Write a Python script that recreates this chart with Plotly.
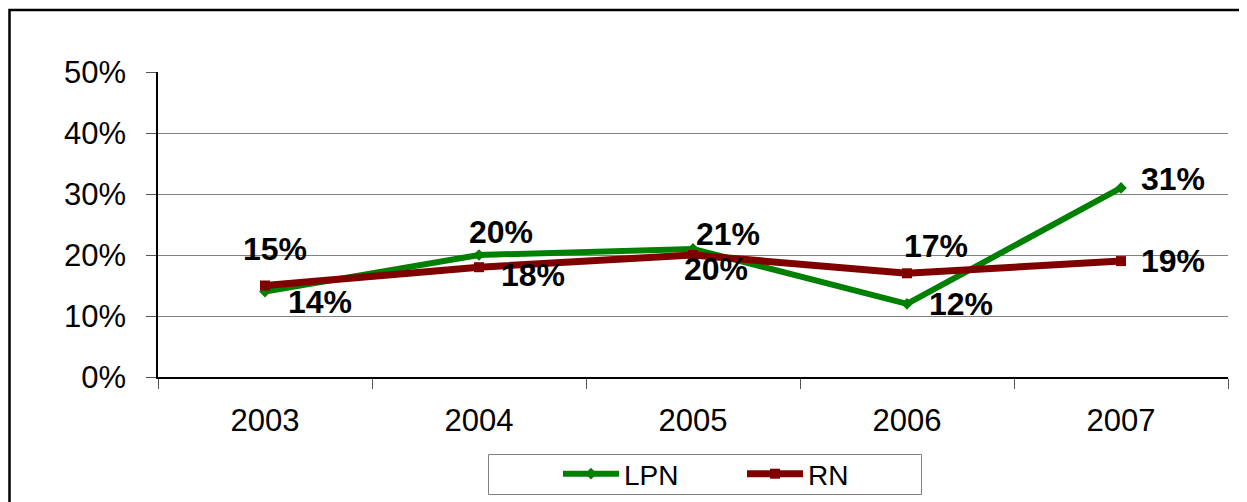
import plotly.graph_objects as go

years = ["2003", "2004", "2005", "2006", "2007"]
lpn_pct = [14, 20, 21, 12, 31]
rn_pct = [15, 18, 20, 17, 19]

# label offsets (pixels) for the data labels: (xshift, yshift)
lpn_label_shift = [(55, -10), (22, 23), (35, 15), (54, 0), (52, 9)]
rn_label_shift = [(10, 37), (54, -8), (23, -14), (29, 27), (52, 0)]

FONT = "Liberation Sans, Arial, sans-serif"
GREEN = "#008000"
RED = "#800000"

fig = go.Figure()
fig.add_trace(go.Scatter(
    x=years, y=[v / 100 for v in lpn_pct], name="LPN", mode="lines+markers",
    line=dict(color=GREEN, width=6), marker=dict(symbol="diamond", size=9, color=GREEN),
))
fig.add_trace(go.Scatter(
    x=years, y=[v / 100 for v in rn_pct], name="RN", mode="lines+markers",
    line=dict(color=RED, width=7), marker=dict(symbol="square", size=10, color=RED),
))

annotations = []
for vals, shifts in ((lpn_pct, lpn_label_shift), (rn_pct, rn_label_shift)):
    for i, (v, (dx, dy)) in enumerate(zip(vals, shifts)):
        annotations.append(dict(
            x=i, y=v / 100, xref="x", yref="y", text=f"<b>{v}%</b>", showarrow=False,
            xshift=dx, yshift=dy, font=dict(family=FONT, size=32, color="black"),
        ))

# page offset of the figure (browser body margin)
OFF = 8
W, H = 1247 - OFF, 502 - OFF
L = 158 - OFF
R = W - (1228 - OFF)
T = 72 - OFF
B = H - (377 - OFF)
pw, ph = W - L - R, H - T - B

def px_to_paper_x(px):
    return (px - OFF - L) / pw

def px_to_paper_y(py):
    return (H - B - (py - OFF)) / ph

fig.update_layout(
    width=W, height=H,
    margin=dict(l=L, r=R, t=T, b=B, pad=0, autoexpand=False),
    paper_bgcolor="white", plot_bgcolor="white",
    font=dict(family=FONT, size=31, color="black"),
    showlegend=True,
    legend=dict(
        orientation="h", x=px_to_paper_x(558), xanchor="left",
        y=px_to_paper_y(474), yanchor="middle",
        borderwidth=0, bgcolor="rgba(0,0,0,0)",
        font=dict(family=FONT, size=28, color="black"),
        itemwidth=56, tracegroupgap=0, entrywidth=113,
    ),
    annotations=annotations,
    shapes=[
        dict(
            type="rect", xref="paper", yref="paper",
            x0=px_to_paper_x(9.5), x1=px_to_paper_x(1270),
            y0=px_to_paper_y(530), y1=px_to_paper_y(10),
            line=dict(color="black", width=2.5), fillcolor="rgba(0,0,0,0)", layer="below",
        ),
        dict(
            type="rect", xref="paper", yref="paper",
            x0=px_to_paper_x(488.5), x1=px_to_paper_x(921.5),
            y0=px_to_paper_y(494.5), y1=px_to_paper_y(454.5),
            line=dict(color="#808080", width=1), fillcolor="white", layer="below",
        ),
    ],
)

fig.update_xaxes(
    type="category", tickson="boundaries", ticks="outside", ticklen=10,
    tickcolor="#555555", tickwidth=1, showgrid=False, showline=True,
    linecolor="black", linewidth=1.5, ticklabelstandoff=15,
    tickfont=dict(family=FONT, size=31, color="black"),
    range=[-0.5, 4.5],
)
fig.update_yaxes(
    range=[0, 0.5], dtick=0.1, tickformat=".0%", ticks="outside", ticklen=10,
    tickcolor="#555555", tickwidth=1, showgrid=True, gridcolor="#808080", gridwidth=1,
    showline=True, linecolor="black", linewidth=1.5, zeroline=False,
    ticklabelstandoff=14, tickfont=dict(family=FONT, size=31, color="black"),
)

fig.write_html("out.html")
